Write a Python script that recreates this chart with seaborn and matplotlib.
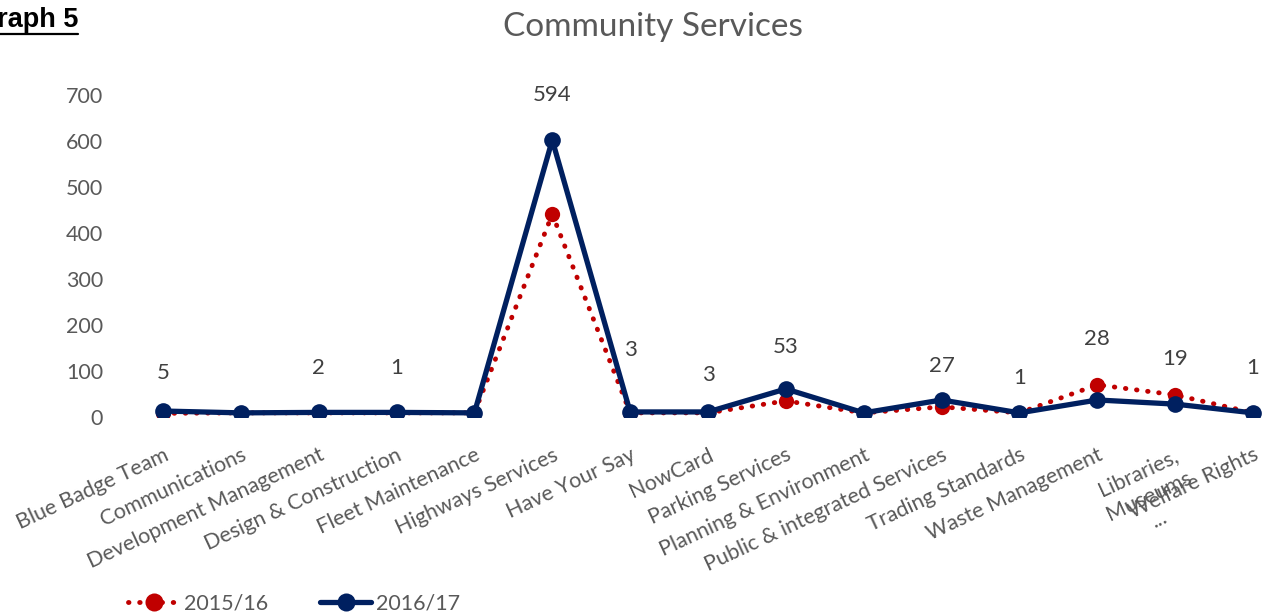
import matplotlib
matplotlib.use("Agg")
import matplotlib.pyplot as plt
from matplotlib.lines import Line2D
import seaborn as sns
import pandas as pd

categories = ["Blue Badge Team", "Communications", "Development Management",
              "Design & Construction", "Fleet Maintenance", "Highways Services",
              "Have Your Say", "NowCard", "Parking Services", "Planning & Environment",
              "Public & integrated Services", "Trading Standards", "Waste Management",
              "Libraries,\nMuseums\n...", "Welfare Rights"]
v_2015 = [8, 9, 9, 9, 9, 441, 9, 9, 35, 9, 22, 9, 70, 48, 9]
v_2016 = [13, 9, 10, 10, 9, 602, 11, 11, 61, 9, 37, 9, 37, 28, 9]
labels = ["5", "", "2", "1", "", "594", "3", "3", "53", "", "27", "1", "28", "19", "1"]
label_y = [96, 0, 107, 107, 0, 700, 146, 91, 152, 0, 111, 85, 170, 126, 107]
yticks = [0, 100, 200, 300, 400, 500, 600, 700]

RED = "#C00000"
NAVY = "#002060"
GRAY = "#595959"

sns.set_theme(style="white")
plt.rcParams["font.family"] = ["Lato", "DejaVu Sans"]

df15 = pd.DataFrame({"cat": categories, "val": v_2015})
df16 = pd.DataFrame({"cat": categories, "val": v_2016})

fig = plt.figure(figsize=(12.63, 6.15), dpi=100)
ax = fig.add_axes([124 / 1263, (615 - 417) / 615, (1292 - 124) / 1263, (417 - 95) / 615])

sns.lineplot(data=df15, x="cat", y="val", ax=ax, sort=False, color=RED,
             linewidth=3.5, linestyle=(0, (0.1, 2.2)), dash_capstyle="round",
             marker="o", markersize=11, markeredgewidth=0, label="2015/16", legend=False)
sns.lineplot(data=df16, x="cat", y="val", ax=ax, sort=False, color=NAVY,
             linewidth=3.8, marker="o", markersize=12, markeredgewidth=0,
             label="2016/17", legend=False)
ax.get_lines()[0].set_dash_capstyle("round")

ax.set_xlim(-0.5, len(categories) - 0.5)
ax.set_ylim(0, 700)
ax.set_yticks(yticks)
ax.set_xlabel("")
ax.set_ylabel("")
for s in ax.spines.values():
    s.set_visible(False)
ax.tick_params(axis="y", length=0, pad=15, labelsize=15.5, labelcolor=GRAY)
ax.tick_params(axis="x", length=0, pad=20, labelsize=15.5, labelcolor=GRAY)
ax.set_xticks(range(len(categories)))
ax.set_xticklabels(categories, rotation=25, ha="right", rotation_mode="anchor",
                   va="top", multialignment="center", linespacing=1.35)

for i, (t, yv) in enumerate(zip(labels, label_y)):
    if t:
        ax.text(i, yv, t, ha="center", va="center", fontsize=16, color="#404040",
                clip_on=False)

fig.text(653 / 1263, 1 - 27 / 615, "Community Services", ha="center", va="center",
         fontsize=24, color=GRAY)

fig.text(78 / 1263, 1 - 20 / 615, "Graph 5", ha="right", va="center", fontsize=19.5,
         fontweight="bold", color="black", family=["Liberation Sans", "DejaVu Sans"])
fig.add_artist(Line2D([0, 78 / 1263], [1 - 34 / 615, 1 - 34 / 615], color="black",
                      linewidth=1.6, transform=fig.transFigure))

handles = [
    Line2D([], [], color=RED, linewidth=3.5, linestyle=(0, (0.1, 2.2)),
           dash_capstyle="round", marker="o", markersize=13, markeredgewidth=0),
    Line2D([], [], color=NAVY, linewidth=3.8, marker="o", markersize=13,
           markeredgewidth=0),
]
fig.legend(handles, ["2015/16", "2016/17"], loc="center left",
           bbox_to_anchor=(128 / 1263, 1 - 604 / 615), ncol=2, frameon=False,
           fontsize=15.5, labelcolor=GRAY, handlelength=2.4, handletextpad=0.2,
           columnspacing=2.4, borderaxespad=0, borderpad=0)

fig.savefig("out.png", dpi=100)
